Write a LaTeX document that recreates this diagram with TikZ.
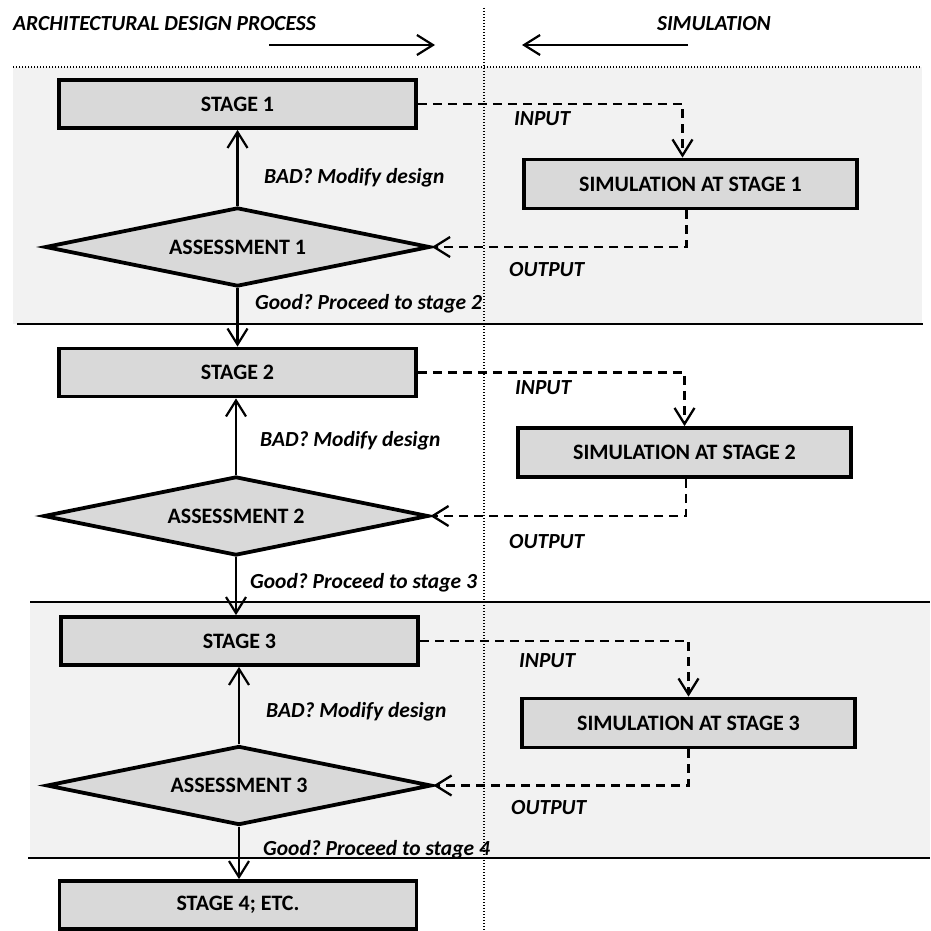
\documentclass[tikz,border=0pt]{standalone}
\usepackage{fontspec}
\setmainfont{Carlito}
\usetikzlibrary{arrows.meta,shapes.geometric}
\definecolor{bandfill}{HTML}{F2F2F2}
\definecolor{boxfill}{HTML}{D9D9D9}
\begin{document}
\frenchspacing
\begin{tikzpicture}[x=1pt,y=-1pt,
  font=\fontsize{22}{26}\selectfont\bfseries,
  stagebox/.style={draw,line width=3.8pt,fill=boxfill,minimum width=357pt,minimum height=48pt,inner sep=0pt},
  simbox/.style={draw,line width=3.8pt,fill=boxfill,minimum width=333pt,minimum height=49pt,inner sep=0pt},
  assess/.style={diamond,draw,line width=3.8pt,fill=boxfill,minimum width=385pt,minimum height=79pt,aspect=4.8,inner sep=0pt},
  lbl/.style={inner sep=0pt,anchor=base west,font=\fontsize{21.5}{25}\selectfont\bfseries\itshape},
  tip/.style={-{Straight Barb[length=16pt,width=20pt]}},
  flow/.style={tip,line width=2.2pt},
  dashline/.style={tip,line width=2.3pt,dash pattern=on 9pt off 6pt},
  sepline/.style={line width=1.5pt},
  dotline/.style={line width=1.3pt,dash pattern=on 1pt off 2pt}
]
\useasboundingbox (0,0) rectangle (930,931);
% bands
\fill[bandfill] (13,67) rectangle (922,324);
\fill[bandfill] (30,602) rectangle (930,858);
% dotted guides
\draw[dotline] (484,8) -- (484,931);
\draw[dotline] (13,67) -- (920,67);
% separators
\draw[sepline] (17,324) -- (923,324);
\draw[sepline] (30,602) -- (930,602);
\draw[sepline] (28,858) -- (930,858);
% header
\node[lbl] (h1) at (13,31) {ARCHITECTURAL DESIGN PROCESS};
\node[lbl,anchor=base east] (h2) at (771,31) {SIMULATION};
\coordinate (ra) at (269,45);
\coordinate (rb) at (435,45);
\coordinate (la) at (688,45);
\coordinate (lb) at (522,45);
\draw[flow] (ra) -- (rb);
\draw[flow] (la) -- (lb);
% nodes
\node[stagebox] (s1) at (237.5,104) {STAGE 1};
\node[stagebox] (s2) at (237.5,372.5) {STAGE 2};
\node[stagebox] (s3) at (239.5,641) {STAGE 3};
\node[stagebox] (s4) at (238,905) {STAGE 4; ETC.};
\node[simbox] (m1) at (690.5,184) {SIMULATION AT STAGE 1};
\node[simbox] (m2) at (684.5,452.5) {SIMULATION AT STAGE 2};
\node[simbox] (m3) at (688.5,723) {SIMULATION AT STAGE 3};
\node[assess] (a1) at (237.5,247) {ASSESSMENT 1};
\node[assess] (a2) at (236,516) {ASSESSMENT 2};
\node[assess] (a3) at (239,785.5) {ASSESSMENT 3};
% flow arrows
\draw[flow] (a1.north) -- (a1.north |- s1.south);
\draw[flow] (a1.south) -- (a1.south |- s2.north);
\draw[flow] (a2.north) -- (a2.north |- s2.south);
\draw[flow] (a2.south) -- (a2.south |- s3.north);
\draw[flow] (a3.north) -- (a3.north |- s3.south);
\draw[flow] (a3.south) -- (a3.south |- s4.north);
% simulation loops
\draw[dashline] (s1.east) -| ([xshift=-8pt]m1.north);
\draw[dashline] ([xshift=-4pt]m1.south) |- (a1.east);
\draw[dashline] (s2.east) -| (m2.north);
\draw[dashline] ([xshift=1.5pt]m2.south) |- (a2.east);
\draw[dashline] (s3.east) -| (m3.north);
\draw[dashline] (m3.south) |- (a3.east);
% labels
\node[lbl] (b1) at (264,183) {BAD? Modify design};
\node[lbl] (b2) at (260,446) {BAD? Modify design};
\node[lbl] (b3) at (266,717) {BAD? Modify design};
\node[lbl] (g2) at (255,309) {Good? Proceed to stage 2};
\node[lbl] (g3) at (250,588) {Good? Proceed to stage 3};
\node[lbl] (g4) at (263,855) {Good? Proceed to stage 4};
\node[lbl] (i1) at (514,126) {INPUT};
\node[lbl] (i2) at (515,394) {INPUT};
\node[lbl] (i3) at (519,667) {INPUT};
\node[lbl] (o1) at (509,276) {OUTPUT};
\node[lbl] (o2) at (509,548) {OUTPUT};
\node[lbl] (o3) at (511,814) {OUTPUT};
\end{tikzpicture}
\end{document}
